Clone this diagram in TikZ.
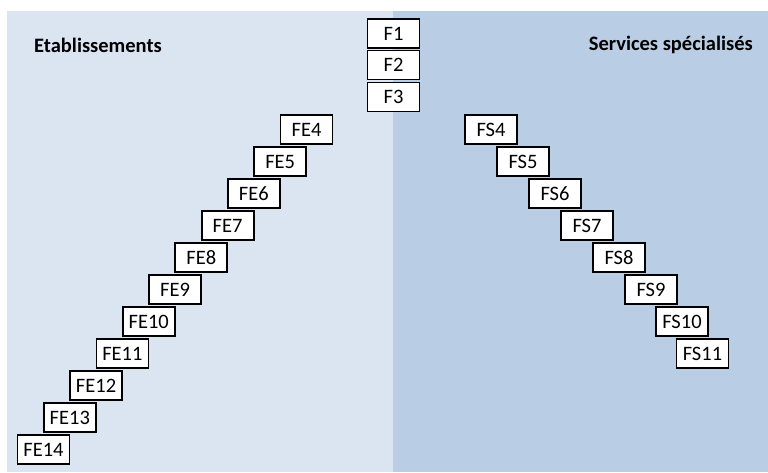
\documentclass[tikz,border=0pt]{standalone}
\usepackage{fontspec}
\setmainfont{Carlito}
\definecolor{leftpanel}{HTML}{DBE5F1}
\definecolor{rightpanel}{HTML}{B9CDE5}
\begin{document}
\begin{tikzpicture}[x=1pt,y=-1pt,
  fbox/.style={draw=black, line width=1.8pt, fill=white, minimum width=52pt, minimum height=29pt, inner sep=0pt, font=\fontsize{20.5}{20.5}\selectfont},
  title/.style={font=\bfseries\fontsize{20.5}{20.5}\selectfont, inner sep=0pt}]
\useasboundingbox (0,0) rectangle (768,472);
\fill[white] (0,0) rectangle (768,472);
\fill[leftpanel] (7,11) rectangle (393,472);
\fill[rightpanel] (393,11) rectangle (768,472);
\node[title, anchor=west] (tl) at (34,45) {Etablissements};
\node[title, anchor=east] (tr) at (753,45) {Services spécialisés};
\node[fbox] (F1) at (393.5,33.5) {F1};
\node[fbox] (F2) at (393.5,65) {F2};
\node[fbox] (F3) at (393.5,97) {F3};
\node[fbox] (FE4) at (306.5,129.5) {FE4};
\node[fbox] (FE5) at (280.2,161.5) {FE5};
\node[fbox] (FE6) at (253.9,193.5) {FE6};
\node[fbox] (FE7) at (227.6,225.5) {FE7};
\node[fbox] (FE8) at (201.3,257.5) {FE8};
\node[fbox] (FE9) at (175,289.5) {FE9};
\node[fbox] (FE10) at (148.7,321.5) {FE10};
\node[fbox] (FE11) at (122.4,353.5) {FE11};
\node[fbox] (FE12) at (96.1,385.5) {FE12};
\node[fbox] (FE13) at (69.8,417.5) {FE13};
\node[fbox] (FE14) at (43.5,449.5) {FE14};
\node[fbox] (FS4) at (491,129.5) {FS4};
\node[fbox] (FS5) at (523,161.5) {FS5};
\node[fbox] (FS6) at (555,193.5) {FS6};
\node[fbox] (FS7) at (587,225.5) {FS7};
\node[fbox] (FS8) at (619,257.5) {FS8};
\node[fbox] (FS9) at (651,289.5) {FS9};
\node[fbox] (FS10) at (682,321.5) {FS10};
\node[fbox] (FS11) at (702.5,353.5) {FS11};
\end{tikzpicture}
\end{document}
